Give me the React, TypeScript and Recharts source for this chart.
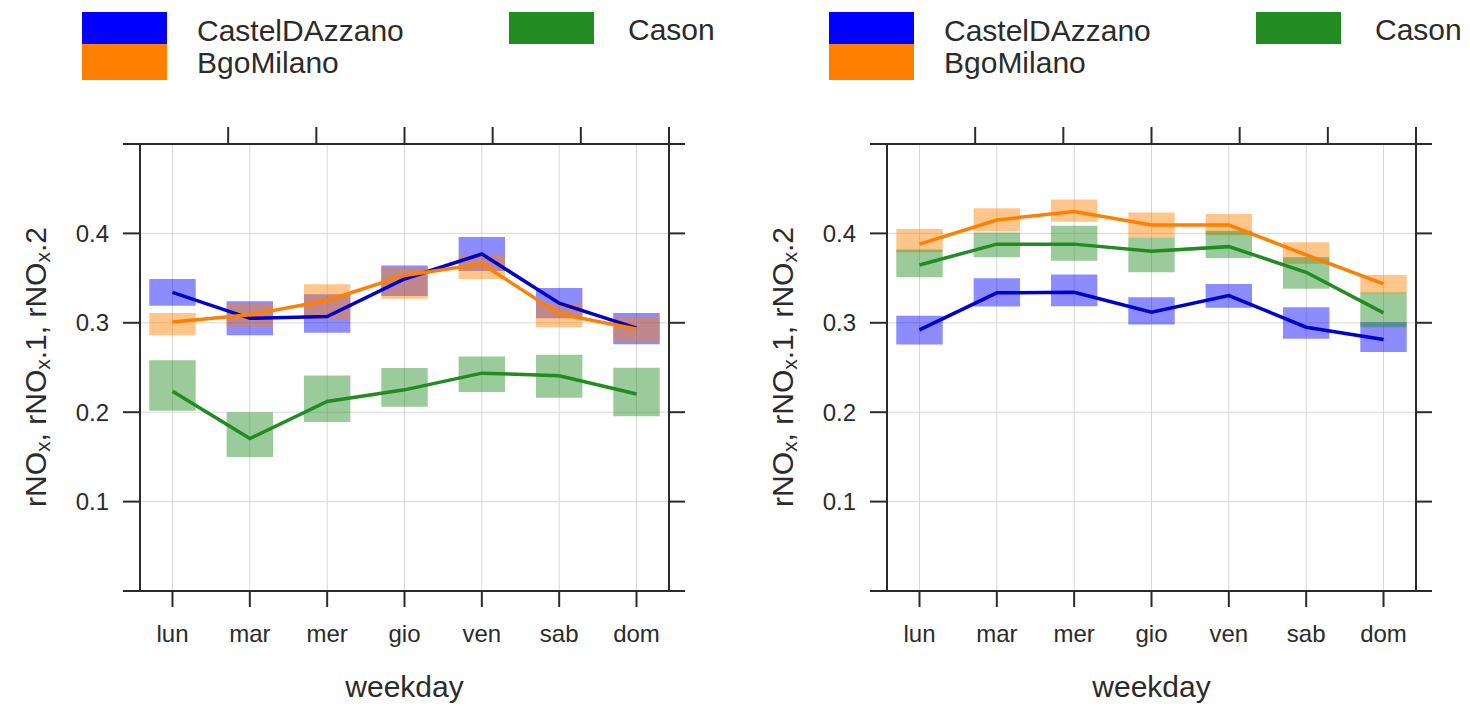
import React from "react";
import {
  ComposedChart,
  Line,
  XAxis,
  YAxis,
  CartesianGrid,
  ReferenceArea,
} from "recharts";

const days = ["lun", "mar", "mer", "gio", "ven", "sab", "dom"];
const dayPos = [1, 2, 3, 4, 5, 6, 7];
const yTicks = [0, 0.1, 0.2, 0.3, 0.4, 0.5];

// panel 1: rNOx by weekday, mean with lower / upper interval
const p1Castel = [0.334, 0.305, 0.307, 0.349, 0.377, 0.322, 0.294];
const p1CastelLo = [0.319, 0.286, 0.289, 0.330, 0.358, 0.305, 0.276];
const p1CastelHi = [0.349, 0.324, 0.332, 0.364, 0.396, 0.339, 0.311];
const p1Bgo = [0.301, 0.309, 0.325, 0.353, 0.366, 0.310, 0.293];
const p1BgoLo = [0.286, 0.296, 0.304, 0.327, 0.349, 0.295, 0.279];
const p1BgoHi = [0.311, 0.322, 0.343, 0.362, 0.376, 0.322, 0.307];
const p1Cason = [0.2235, 0.1705, 0.212, 0.225, 0.2437, 0.2408, 0.2203];
const p1CasonLo = [0.2015, 0.150, 0.189, 0.206, 0.2226, 0.2162, 0.1954];
const p1CasonHi = [0.258, 0.200, 0.241, 0.2495, 0.2623, 0.2642, 0.2497];

// panel 2
const p2Castel = [0.292, 0.3335, 0.3342, 0.3118, 0.3305, 0.2951, 0.2814];
const p2CastelLo = [0.2758, 0.3182, 0.3185, 0.298, 0.3167, 0.2822, 0.2672];
const p2CastelHi = [0.308, 0.3498, 0.3539, 0.3286, 0.3435, 0.3174, 0.3007];
const p2Bgo = [0.388, 0.415, 0.4246, 0.4094, 0.4094, 0.376, 0.3435];
const p2BgoLo = [0.379, 0.402, 0.413, 0.396, 0.398, 0.366, 0.333];
const p2BgoHi = [0.405, 0.428, 0.438, 0.4234, 0.4217, 0.390, 0.3536];
const p2Cason = [0.3647, 0.388, 0.388, 0.380, 0.3852, 0.3565, 0.3111];
const p2CasonLo = [0.351, 0.3732, 0.3695, 0.3565, 0.3725, 0.338, 0.295];
const p2CasonHi = [0.382, 0.4011, 0.4086, 0.3956, 0.403, 0.3732, 0.334];

const FONT = "'Liberation Sans', Arial, sans-serif";
const INK = "#2b2b2b";
const BLUE = "#0000ff";
const ORANGE = "#ff8000";
const GREEN = "#228b22";

interface Series {
  key: string;
  mean: number[];
  lo: number[];
  hi: number[];
  fill: string;
  stroke: string;
}

function makeSeries(
  castel: number[][],
  bgo: number[][],
  cason: number[][]
): Series[] {
  return [
    { key: "CastelDAzzano", mean: castel[0], lo: castel[1], hi: castel[2], fill: BLUE, stroke: "#0000cc" },
    { key: "BgoMilano", mean: bgo[0], lo: bgo[1], hi: bgo[2], fill: ORANGE, stroke: ORANGE },
    { key: "Cason", mean: cason[0], lo: cason[1], hi: cason[2], fill: GREEN, stroke: GREEN },
  ];
}

const panel1 = makeSeries(
  [p1Castel, p1CastelLo, p1CastelHi],
  [p1Bgo, p1BgoLo, p1BgoHi],
  [p1Cason, p1CasonLo, p1CasonHi]
);
const panel2 = makeSeries(
  [p2Castel, p2CastelLo, p2CastelHi],
  [p2Bgo, p2BgoLo, p2BgoHi],
  [p2Cason, p2CasonLo, p2CasonHi]
);

const axisStroke = { stroke: INK, strokeWidth: 2 };
const tickStyle = { fill: INK, fontSize: 24, fontFamily: FONT };

function KeyBox({ left, top, h, color }: { left: number; top: number; h: number; color: string }) {
  return <div style={{ position: "absolute", left, top, width: 85, height: h, background: color }} />;
}

function KeyText({ left, top, children }: { left: number; top: number; children: React.ReactNode }) {
  return (
    <div style={{ position: "absolute", left, top, fontSize: 30, lineHeight: "30px", color: INK, whiteSpace: "nowrap" }}>
      {children}
    </div>
  );
}

function Panel({ series, left }: { series: Series[]; left: number }) {
  const data = dayPos.map((x, i) => {
    const row: Record<string, number> = { x };
    series.forEach((s) => {
      row[s.key] = s.mean[i];
    });
    return row;
  });

  return (
    <div style={{ position: "absolute", left, top: 0, width: 735, height: 706 }}>
      <KeyBox left={82} top={12} h={32} color={BLUE} />
      <KeyBox left={82} top={44} h={36} color={ORANGE} />
      <KeyText left={197} top={16}>CastelDAzzano</KeyText>
      <KeyText left={197} top={48}>BgoMilano</KeyText>
      <KeyBox left={509} top={12} h={32} color={GREEN} />
      <KeyText left={628} top={15}>Cason</KeyText>

      <div style={{ position: "absolute", left: 0, top: 0 }}>
        <ComposedChart width={735} height={706} data={data} margin={{ top: 0, right: 0, bottom: 0, left: 0 }}>
          <CartesianGrid stroke="#d8d8d8" strokeWidth={1} />
          <XAxis
            dataKey="x"
            type="number"
            domain={[0.58, 7.42]}
            allowDataOverflow
            ticks={dayPos}
            tickFormatter={(v: number) => days[v - 1]}
            height={115}
            tickSize={16}
            tickMargin={18}
            axisLine={axisStroke}
            tickLine={axisStroke}
            tick={tickStyle}
            label={{ value: "weekday", position: "insideBottom", offset: 9, fontSize: 30, fill: INK, fontFamily: FONT }}
          />
          <XAxis
            xAxisId="top"
            orientation="top"
            type="number"
            domain={[0.58, 7.42]}
            allowDataOverflow
            ticks={dayPos}
            height={144}
            tickSize={17}
            tickFormatter={() => ""}
            axisLine={axisStroke}
            tickLine={axisStroke}
          />
          <YAxis
            type="number"
            domain={[0, 0.5]}
            allowDataOverflow
            ticks={yTicks}
            width={140}
            tickSize={17}
            tickMargin={14}
            tickFormatter={(v: number) => (v === 0 || v === 0.5 ? "" : v.toFixed(1))}
            axisLine={axisStroke}
            tickLine={axisStroke}
            tick={tickStyle}
          />
          <YAxis
            yAxisId="right"
            orientation="right"
            type="number"
            domain={[0, 0.5]}
            allowDataOverflow
            ticks={yTicks}
            width={66}
            tickSize={16}
            tickFormatter={() => ""}
            axisLine={axisStroke}
            tickLine={axisStroke}
          />
          {series.map((s) =>
            dayPos.map((x, i) => (
              <ReferenceArea
                key={`${s.key}-${x}`}
                x1={x - 0.3}
                x2={x + 0.3}
                y1={s.lo[i]}
                y2={s.hi[i]}
                fill={s.fill}
                fillOpacity={0.45}
                stroke="none"
              />
            ))
          )}
          {series.map((s) => (
            <Line
              key={s.key}
              dataKey={s.key}
              type="linear"
              stroke={s.stroke}
              strokeWidth={3.5}
              dot={false}
              activeDot={false}
              isAnimationActive={false}
            />
          ))}
        </ComposedChart>
      </div>

      <svg width={735} height={706} style={{ position: "absolute", left: 0, top: 0, pointerEvents: "none" }}>
        <text
          transform="translate(35,367) rotate(-90)"
          textAnchor="middle"
          dominantBaseline="central"
          fontSize={30}
          fontFamily={FONT}
          fill={INK}
        >
          rNO<tspan fontSize={21} dy={7}>x</tspan>
          <tspan dy={-7}>, rNO</tspan>
          <tspan fontSize={21} dy={7}>x</tspan>
          <tspan dy={-7}>.1, rNO</tspan>
          <tspan fontSize={21} dy={7}>x</tspan>
          <tspan dy={-7}>.2</tspan>
        </text>
      </svg>
    </div>
  );
}

export default function App() {
  return (
    <div
      style={{
        position: "absolute",
        left: 0,
        top: 0,
        width: 1470,
        height: 706,
        overflow: "hidden",
        background: "#fff",
        fontFamily: FONT,
      }}
    >
      <Panel series={panel1} left={0} />
      <Panel series={panel2} left={747} />
    </div>
  );
}
